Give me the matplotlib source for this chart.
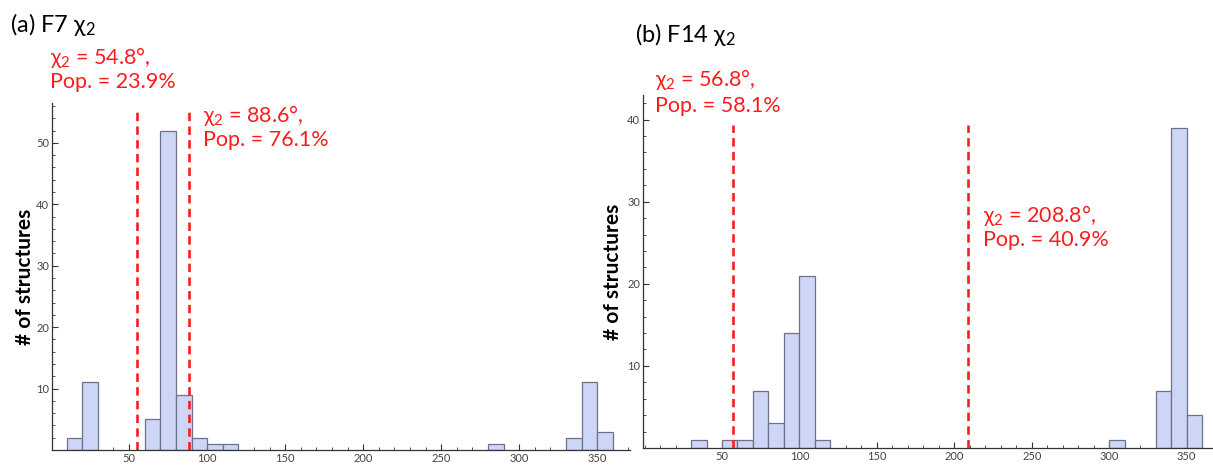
import matplotlib
matplotlib.use("Agg")
import matplotlib.pyplot as plt
from matplotlib.ticker import MultipleLocator

plt.rcParams['font.family'] = ['Lato', 'DejaVu Sans']
plt.rcParams['mathtext.fontset'] = 'custom'
plt.rcParams['mathtext.rm'] = 'Lato'
plt.rcParams['mathtext.it'] = 'Lato'

# ---- data ----
bins_a = [10, 20, 60, 70, 80, 90, 100, 110, 280, 330, 340, 350]
counts_a = [2, 11, 5, 52, 9, 2, 1, 1, 1, 2, 11, 3]
lines_a = [54.8, 88.6]
pops_a = [23.9, 76.1]

bins_b = [30, 50, 60, 70, 80, 90, 100, 110, 300, 330, 340, 350]
counts_b = [1, 1, 1, 7, 3, 14, 21, 1, 1, 7, 39, 4]
lines_b = [56.8, 208.8]
pops_b = [58.1, 40.9]

bin_width = 10
titles = ["(a) F7 χ$_2$", "(b) F14 χ$_2$"]
ylabel = "# of structures"

W, H = 1213, 466
fig = plt.figure(figsize=(W / 100, H / 100), dpi=100)

def px(x, y):
    return x / W, 1 - y / H

bar_face = '#cdd6f6'
bar_edge = '#70708a'
red = '#f81e1e'

def style_axes(ax, xlim, ylim, ymajor):
    ax.set_xlim(*xlim)
    ax.set_ylim(*ylim)
    for s in ['top', 'right']:
        ax.spines[s].set_visible(False)
    for s in ['left', 'bottom']:
        ax.spines[s].set_color('#333333')
        ax.spines[s].set_linewidth(0.9)
    ax.xaxis.set_major_locator(MultipleLocator(50))
    ax.xaxis.set_minor_locator(MultipleLocator(10))
    ax.yaxis.set_major_locator(MultipleLocator(ymajor))
    ax.yaxis.set_minor_locator(MultipleLocator(2))
    ax.tick_params(which='major', direction='in', length=4, width=0.8,
                   colors='#333333', labelsize=8, labelcolor='#444444', pad=2)
    ax.tick_params(which='minor', direction='in', length=2.2, width=0.6, colors='#333333')
    ax.set_xticks([50, 100, 150, 200, 250, 300, 350])
    ax.set_yticks([v for v in range(ymajor, int(ylim[1]) + 1, ymajor)])

# ---- panel (a) ----
axa = fig.add_axes([52 / W, 16 / H, 578 / W, 347 / H])
axa.bar(bins_a, counts_a, width=bin_width, align='edge', color=bar_face,
        edgecolor=bar_edge, linewidth=0.9, zorder=2)
style_axes(axa, (0.6, 371), (0, 56.5), 10)
axa.vlines(lines_a, 0, 55.5, colors=red, linestyles=(0, (3.2, 2.0)), linewidth=1.9, zorder=3)
axa.set_ylabel(ylabel, fontsize=15, fontweight='bold', labelpad=1)

# ---- panel (b) ----
axb = fig.add_axes([643 / W, 18 / H, 570 / W, 353 / H])
axb.bar(bins_b, counts_b, width=bin_width, align='edge', color=bar_face,
        edgecolor=bar_edge, linewidth=0.9, zorder=2)
style_axes(axb, (-1, 367), (0, 43), 10)
axb.vlines(lines_b, 0, 39.3, colors=red, linestyles=(0, (3.2, 2.0)), linewidth=1.9, zorder=3)
axb.set_ylabel(ylabel, fontsize=15, fontweight='bold', labelpad=3)

# ---- titles ----
fig.text(*px(10, 25), titles[0], fontsize=17, va='center', ha='left')
fig.text(*px(635, 35), titles[1], fontsize=17, va='center', ha='left')

# ---- annotations ----
def annot(x, y1, y2, angle, pop):
    fig.text(*px(x, y1), "χ$_2$ = %.1f°," % angle, fontsize=15.5, color=red, va='center', ha='left')
    fig.text(*px(x, y2), "Pop. = %.1f%%" % pop, fontsize=15.5, color=red, va='center', ha='left')

annot(50, 57, 82, lines_a[0], pops_a[0])
annot(203, 115, 140, lines_a[1], pops_a[1])
annot(655, 80, 106, lines_b[0], pops_b[0])
annot(983, 215, 240, lines_b[1], pops_b[1])

fig.savefig("out.png", dpi=100)
